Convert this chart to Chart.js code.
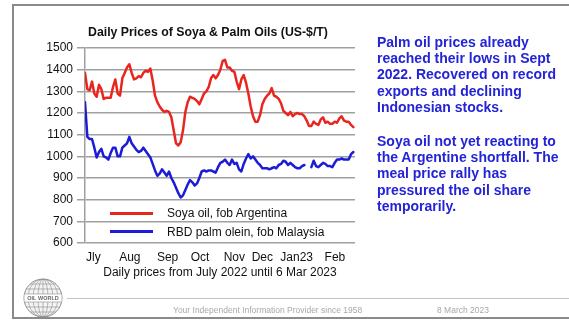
<!DOCTYPE html>
<html>
<head>
<meta charset="utf-8">
<script src="https://cdn.jsdelivr.net/npm/chart.js@4.4.1/dist/chart.umd.min.js"></script>
<style>
  html, body { margin: 0; padding: 0; background: #fff; }
  #wrap { position: relative; width: 569px; height: 321px; overflow: hidden; font-family: "Liberation Sans", Arial, sans-serif; }
  #c { position: absolute; left: 0; top: 0; }
  .frame-top { position: absolute; left: 13px; top: 4px; width: 560px; height: 2px; background: #8a8a8a; }
  .frame-left { position: absolute; left: 12px; top: 4px; width: 2px; height: 315px; background: #8a8a8a; }
  .frame-bottom { position: absolute; left: 12px; top: 317px; width: 560px; height: 2px; background: #8a8a8a; }
  .footer-line { position: absolute; left: 67px; top: 298px; width: 510px; height: 1px; background: #c4c4c4; }
  .footer { position: absolute; top: 305px; font-size: 8.5px; color: #a8a8a8; white-space: nowrap; }
  #title { position: absolute; left: 0; width: 416px; top: 25px; text-align: center; font-size: 12.3px; font-weight: bold; color: #111; white-space: nowrap; }
  #note { position: absolute; left: 377px; top: 34px; font-size: 14px; font-weight: bold; line-height: 16.2px; color: rgb(35,35,215); white-space: nowrap; }
  #note p { margin: 0 0 18px 0; }
  #legend { position: absolute; left: 110px; top: 204px; font-size: 12px; color: #111; }
  #legend .item { display: flex; align-items: center; height: 18.5px; white-space: nowrap; }
  #legend .swatch { width: 43px; height: 3px; margin-right: 14px; }
</style>
</head>
<body>
<div id="wrap">
  <canvas id="c" width="569" height="321"></canvas>
  <div class="frame-top"></div>
  <div class="frame-left"></div>
  <div class="frame-bottom"></div>
  <div class="footer-line"></div>
  <div class="footer" style="left:173px">Your Independent Information Provider since 1958</div>
  <div class="footer" style="left:437px">8 March 2023</div>
  <div id="title">Daily Prices of Soya &amp; Palm Oils (US-$/T)</div>
  <div id="legend"></div>
  <div id="note">
    <p>Palm oil prices already<br>reached their lows in Sept<br>2022. Recovered on record<br>exports and declining<br>Indonesian stocks.</p>
    <p>Soya oil not yet reacting to<br>the Argentine shortfall. The<br>meal price rally has<br>pressured the oil share<br>temporarily.</p>
  </div>
</div>
<script>
// Daily prices, US-$/t, July 2022 to 6 March 2023 (one value per step)
const soyaOilArgentina = [
  1385, 1310, 1305, 1345, 1290, 1275, 1330, 1310, 1265, 1270,
  1270, 1270, 1320, 1355, 1290, 1280, 1360, 1385, 1410, 1425,
  1385, 1355, 1360, 1370, 1365, 1385, 1395, 1390, 1405, 1350,
  1280, 1250, 1230, 1215, 1205, 1210, 1205, 1180, 1120, 1060,
  1050, 1065, 1120, 1205, 1250, 1275, 1270, 1265, 1255, 1240,
  1265, 1290, 1300, 1320, 1360, 1375, 1360, 1375, 1400, 1440,
  1445, 1410, 1410, 1395, 1390, 1345, 1310, 1355, 1375, 1340,
  1290, 1230, 1185, 1160, 1160, 1190, 1240, 1265, 1280, 1290,
  1315, 1280, 1275, 1265, 1245, 1210, 1200, 1190, 1205, 1185,
  1195, 1200, 1195, 1195, 1185, 1165, 1140, 1140, 1160, 1150,
  1145, 1170, 1180, 1155, 1160, 1150, 1150, 1160, 1155, 1175,
  1185, 1165, 1160, 1160, 1145, 1135
];
const palmOleinMalaysia = [
  1250, 1090, 1080, 1080, 1040, 995, 1020, 1035, 1000, 995,
  985, 1015, 1040, 1040, 1000, 1000, 1040, 1050, 1060, 1090,
  1060, 1045, 1030, 1020, 1025, 1040, 1025, 1010, 995, 965,
  935, 910, 920, 940, 925, 910, 930, 900, 880, 855,
  830, 810, 820, 845, 870, 890, 880, 865, 875, 900,
  930, 935, 930, 935, 935, 930, 925, 950, 970, 975,
  985, 970, 960, 985, 965, 970, 940, 930, 965, 990,
  1010, 990, 1000, 985, 970, 960, 945, 945, 945, 940,
  945, 950, 945, 960, 965, 980, 975, 960, 970, 960,
  950, 945, 945, 955, 960, null, null, 950, 980, 955,
  950, 960, 970, 965, 955, 955, 950, 970, 985, 985,
  990, 985, 985, 985, 1010, 1020
];
const seriesLabels = ['Soya oil, fob Argentina', 'RBD palm olein, fob Malaysia'];
const monthLabels = ['Jly', 'Aug', 'Sep', 'Oct', 'Nov', 'Dec', 'Jan23', 'Feb'];
const monthTickPos = [3.6, 19.2, 35.4, 49.3, 64, 76, 90.7, 107.1];
const priceTicks = [600, 700, 800, 900, 1000, 1100, 1200, 1300, 1400, 1500];

const RED = 'rgb(232,38,30)';
const BLUE = 'rgb(28,28,215)';
const FONT = '"Liberation Sans", Arial, sans-serif';

const toPoints = arr => arr.map((v, i) => ({ x: i, y: v }));

// Globe emblem drawn in the lower-left corner
const emblem = {
  id: 'emblem',
  afterDraw(chart) {
    const ctx = chart.ctx;
    const cx = 43, cy = 298, r = 19;
    ctx.save();
    ctx.fillStyle = '#f4f4f4';
    ctx.beginPath(); ctx.arc(cx, cy, r, 0, Math.PI * 2); ctx.fill();
    ctx.strokeStyle = '#8c8c8c';
    ctx.lineWidth = 1;
    ctx.beginPath(); ctx.arc(cx, cy, r, 0, Math.PI * 2); ctx.stroke();
    ctx.beginPath(); ctx.arc(cx, cy, r, 0, Math.PI * 2); ctx.clip();
    ctx.lineWidth = 0.6;
    [5, 10, 15].forEach(rx => {
      ctx.beginPath(); ctx.ellipse(cx, cy, rx, r, 0, 0, Math.PI * 2); ctx.stroke();
    });
    ctx.beginPath(); ctx.moveTo(cx, cy - r); ctx.lineTo(cx, cy + r); ctx.stroke();
    [-14, -9, 9, 14].forEach(dy => {
      ctx.beginPath(); ctx.moveTo(cx - r, cy + dy); ctx.lineTo(cx + r, cy + dy); ctx.stroke();
    });
    ctx.fillStyle = '#ffffff';
    ctx.fillRect(cx - r, cy - 4, 2 * r, 8);
    ctx.strokeRect(cx - r, cy - 4, 2 * r, 8);
    ctx.fillStyle = '#6a6a6a';
    ctx.font = 'bold 5.5px ' + FONT;
    ctx.textAlign = 'center';
    ctx.textBaseline = 'middle';
    ctx.fillText('OIL WORLD', cx, cy + 0.5);
    ctx.restore();
  }
};

const chart = new Chart(document.getElementById('c'), {
  type: 'line',
  data: {
    datasets: [
      { label: seriesLabels[0], data: toPoints(soyaOilArgentina), borderColor: RED, backgroundColor: RED },
      { label: seriesLabels[1], data: toPoints(palmOleinMalaysia), borderColor: BLUE, backgroundColor: BLUE }
    ]
  },
  options: {
    responsive: false,
    animation: false,
    devicePixelRatio: 1,
    layout: { padding: { left: 10, right: 214, top: 48, bottom: 41 } },
    elements: {
      point: { radius: 0, hoverRadius: 0 },
      line: { borderWidth: 2.5, tension: 0, borderJoinStyle: 'round', borderCapStyle: 'round' }
    },
    spanGaps: false,
    plugins: { legend: { display: false }, title: { display: false }, tooltip: { enabled: false } },
    scales: {
      x: {
        type: 'linear',
        min: 0,
        max: 115.7,
        afterFit(s) { s.height = 37; },
        afterBuildTicks(s) { s.ticks = monthTickPos.map(v => ({ value: v })); },
        grid: { display: false, drawTicks: false },
        border: { display: false },
        ticks: {
          autoSkip: false, maxRotation: 0, padding: 7,
          color: '#111', font: { family: FONT, size: 12 },
          callback: (v, i) => monthLabels[i]
        },
        title: {
          display: true,
          text: 'Daily prices from July 2022 until 6 Mar 2023',
          color: '#111', font: { family: FONT, size: 12 },
          padding: { top: 0, bottom: 0 }
        }
      },
      y: {
        min: 600,
        max: 1500,
        afterFit(s) { s.width = 75; },
        afterBuildTicks(s) { s.ticks = priceTicks.map(v => ({ value: v })); },
        grid: { color: '#a0a0a0', lineWidth: 1.5, tickLength: 8, drawTicks: true },
        border: { display: true, color: '#a0a0a0', width: 1.5 },
        ticks: {
          padding: 4, color: '#111', font: { family: FONT, size: 12 },
          callback: v => String(v)
        }
      }
    }
  },
  plugins: [emblem]
});

// Legend built from the datasets, placed inside the plot
const legendEl = document.getElementById('legend');
chart.data.datasets.forEach(ds => {
  const item = document.createElement('div');
  item.className = 'item';
  const sw = document.createElement('span');
  sw.className = 'swatch';
  sw.style.background = ds.borderColor;
  const tx = document.createElement('span');
  tx.textContent = ds.label;
  item.appendChild(sw);
  item.appendChild(tx);
  legendEl.appendChild(item);
});
</script>
</body>
</html>
